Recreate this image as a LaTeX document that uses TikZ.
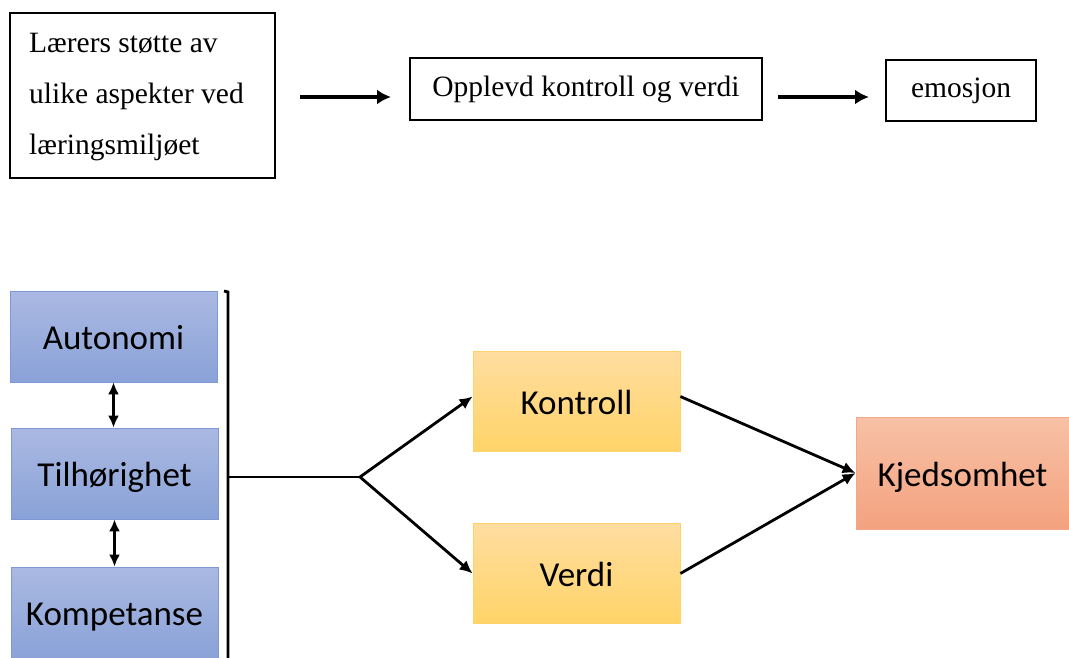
\documentclass[tikz,border=0pt]{standalone}
\usepackage{fontspec}
\setmainfont{Liberation Serif}
\newfontfamily\calibri{Carlito}
\usetikzlibrary{positioning,arrows.meta}

\definecolor{blueTop}{HTML}{AAB9E2}
\definecolor{blueBottom}{HTML}{8AA2D8}
\definecolor{blueEdge}{HTML}{7D98D4}
\definecolor{yellowTop}{HTML}{FFDDA0}
\definecolor{yellowBottom}{HTML}{FFD468}
\definecolor{yellowEdge}{HTML}{FCD36A}
\definecolor{orangeTop}{HTML}{F7C1A6}
\definecolor{orangeBottom}{HTML}{F4A27F}
\definecolor{orangeEdge}{HTML}{F2A888}

\tikzset{
  plainbox/.style={draw, line width=1.5pt, inner sep=0pt},
  need/.style={minimum width=207pt, minimum height=91pt, inner sep=0pt,
    top color=blueTop, bottom color=blueBottom, draw=blueEdge, line width=0.8pt,
    font=\calibri\fontsize{35}{40}\selectfont, text depth=0pt, text height=26pt},
  appraisal/.style={minimum width=207pt, minimum height=100pt, inner sep=0pt,
    top color=yellowTop, bottom color=yellowBottom, draw=yellowEdge, line width=0.8pt,
    font=\calibri\fontsize{35}{40}\selectfont, text depth=0pt, text height=26pt},
  feeling/.style={minimum width=213pt, minimum height=112pt, inner sep=0pt,
    top color=orangeTop, bottom color=orangeBottom, draw=orangeEdge, line width=0.8pt,
    font=\calibri\fontsize{35}{40}\selectfont, text depth=0pt, text height=26pt},
  topArrow/.style={-{Latex[length=14pt,width=15pt]}, line width=3.6pt},
  link/.style={line width=2.8pt},
  linkArrow/.style={link, -{Latex[length=13pt,width=12pt]}},
  bothArrow/.style={{Latex[length=12pt,width=11pt]}-{Latex[length=12pt,width=11pt]}, line width=2.8pt}
}

\begin{document}
\begin{tikzpicture}[x=1pt,y=-1pt]
    \useasboundingbox (0,0) rectangle (1069,658);

    \node[plainbox, minimum width=265pt, minimum height=165pt] (support) at (142.5,95.5) {};
    \node[anchor=west, align=left, inner sep=0pt, font=\fontsize{29.5}{51}\selectfont] (supportText) at (29,97)
      {Lærers støtte av\\ulike aspekter ved\\læringsmiljøet};
    \node[plainbox, minimum width=352pt, minimum height=62pt, font=\fontsize{29.5}{32}\selectfont] (perceived) at (586,89) {Opplevd kontroll og verdi};
    \node[plainbox, minimum width=150pt, minimum height=61pt, font=\fontsize{29.5}{32}\selectfont] (emotion) at (961,90.5) {emosjon};

    \coordinate (arrowOneStart) at (300,97);
    \coordinate (arrowOneEnd) at (391,97);
    \coordinate (arrowTwoStart) at (778,97);
    \coordinate (arrowTwoEnd) at (869,97);
    \draw[topArrow] (arrowOneStart) -- (arrowOneEnd);
    \draw[topArrow] (arrowTwoStart) -- (arrowTwoEnd);

    \node[need] (autonomy) at (113.5,336.5) {Autonomi};
    \node[need] (belonging) at (114.5,473.5) {Tilhørighet};
    \node[need] (competence) at (114.5,612.5) {Kompetanse};

    \node[appraisal] (control) at (576.5,401.5) {Kontroll};
    \node[appraisal] (value) at (576.5,573.5) {Verdi};
    \node[feeling] (boredom) at (962.5,473) {Kjedsomhet};

    \draw[bothArrow] (autonomy) -- (autonomy |- belonging.north);
    \draw[bothArrow] (belonging) -- (belonging |- competence.north);

    \coordinate (barHook) at (224,291);
    \coordinate (barTop) at (228,292);
    \coordinate (barBottom) at (228,660);
    \coordinate (barMid) at (228,477);
    \coordinate (fork) at (360,477);
    \draw[link] (barHook) -- (barTop) -- (barBottom);
    \draw[link] (barMid) -- (fork);
    \draw[linkArrow] (fork) -- ([yshift=5pt]control.west);
    \draw[linkArrow] (fork) -- (value.west);
    \draw[linkArrow] ([yshift=5pt]control.east) -- (boredom.west);
    \draw[linkArrow] (value.east) -- (boredom.west);
\end{tikzpicture}
\end{document}
